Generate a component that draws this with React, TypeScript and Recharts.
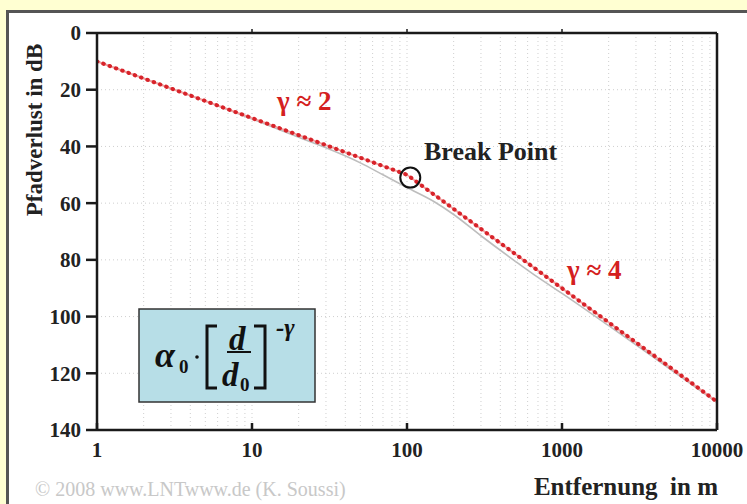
import { LineChart, Line, XAxis, YAxis, ReferenceLine, ReferenceDot } from 'recharts'

// distance axis (log) and path loss axis (dB, growing downwards)
const distanceTicks = [1, 10, 100, 1000, 10000]
const lossTicks = [0, 20, 40, 60, 80, 100, 120, 140]
const lossGrid = [20, 40, 60, 80, 100, 120]
const distanceGrid = [
  2, 3, 4, 5, 6, 7, 8, 9, 10,
  20, 30, 40, 50, 60, 70, 80, 90, 100,
  200, 300, 400, 500, 600, 700, 800, 900, 1000,
  2000, 3000, 4000, 5000, 6000, 7000, 8000, 9000,
]

// two-slope model: gamma ~ 2 up to the break point, gamma ~ 4 beyond
const modelDistance = [1, 100, 10000]
const modelLoss = [10, 50, 130]

// smooth path loss curve underneath the model
const curveDistance = [1, 2, 5, 10, 20, 30, 50, 70, 100, 150, 200, 300, 500, 700, 1000, 2000, 5000, 10000]
const curveLoss = [10, 16, 24, 30.3, 36.8, 40.5, 45.8, 50, 54.5, 59.5, 64, 71.5, 80.5, 86.2, 91.8, 103.2, 118.6, 130.3]

const breakDistance = 105
const breakLoss = 51

const modelData = modelDistance.map((d, i) => ({ d, loss: modelLoss[i] }))
const curveData = curveDistance.map((d, i) => ({ d, loss: curveLoss[i] }))

const SERIF = '"Liberation Serif", "Times New Roman", serif'
const AXIS = { stroke: '#1a1a1a', strokeWidth: 2.5 }
const GRID = '#cfcfcf'
const TICK = { fill: '#222', fontSize: 21, fontWeight: 'bold', fontFamily: SERIF }
const ITALIC = { fontStyle: 'italic' as const }

export default function App() {
  return (
    <div
      style={{
        position: 'fixed',
        left: 0,
        top: 0,
        width: 747,
        height: 504,
        background: '#ffffd2',
        overflow: 'hidden',
        fontFamily: SERIF,
      }}
    >
      <div
        style={{
          position: 'absolute',
          left: 6,
          top: 10,
          width: 800,
          height: 600,
          background: '#fff',
          borderTop: '3px solid #555',
          borderLeft: '3px solid #555',
        }}
      />
      <div style={{ position: 'absolute', left: 0, top: 0 }}>
        <LineChart
          width={747}
          height={504}
          margin={{ top: 29, right: 20, bottom: 34, left: 37 }}
        >
          {distanceGrid.map((v) => (
            <ReferenceLine key={'x' + v} x={v} stroke={GRID} strokeDasharray="1 3" />
          ))}
          {lossGrid.map((v) => (
            <ReferenceLine key={'y' + v} y={v} stroke={GRID} strokeDasharray="1 3" />
          ))}
          <XAxis
            dataKey="d"
            type="number"
            scale="log"
            domain={[1, 10000]}
            ticks={distanceTicks}
            allowDataOverflow
            height={40}
            axisLine={AXIS}
            tickLine={AXIS}
            tickSize={-7}
            tickMargin={19}
            tick={TICK}
          />
          <XAxis
            xAxisId="top"
            orientation="top"
            dataKey="d"
            type="number"
            scale="log"
            domain={[1, 10000]}
            ticks={[10, 100, 1000]}
            allowDataOverflow
            height={4}
            axisLine={AXIS}
            tickLine={{ stroke: '#1a1a1a', strokeWidth: 1.5 }}
            tickSize={4}
            tickFormatter={() => ''}
          />
          <YAxis
            type="number"
            domain={[0, 140]}
            ticks={lossTicks}
            reversed
            width={60}
            axisLine={AXIS}
            tickLine={AXIS}
            tickSize={11}
            tickMargin={5}
            tick={TICK}
          />
          <YAxis
            yAxisId="right"
            orientation="right"
            type="number"
            domain={[0, 140]}
            ticks={[20, 40, 60, 80, 100, 120]}
            reversed
            width={10}
            axisLine={AXIS}
            tickLine={{ stroke: '#1a1a1a', strokeWidth: 2 }}
            tickSize={4}
            tickFormatter={() => ''}
          />
          <Line
            data={curveData}
            dataKey="loss"
            type="monotone"
            stroke="#bdbdbd"
            strokeWidth={1.6}
            dot={false}
            isAnimationActive={false}
          />
          <Line
            data={modelData}
            dataKey="loss"
            type="linear"
            stroke="#f4a3a3"
            strokeWidth={2}
            dot={false}
            isAnimationActive={false}
          />
          <Line
            data={modelData}
            dataKey="loss"
            type="linear"
            stroke="#d8232a"
            strokeWidth={4}
            strokeDasharray="0.5 6.2"
            strokeLinecap="round"
            dot={false}
            isAnimationActive={false}
          />
          <ReferenceDot
            x={breakDistance}
            y={breakLoss}
            r={10}
            fill="none"
            stroke="#111"
            strokeWidth={2}
          />
        </LineChart>
      </div>
      <svg
        width={747}
        height={504}
        style={{ position: 'absolute', left: 0, top: 0, pointerEvents: 'none' }}
        fontFamily={SERIF}
      >
        <text
          x={0}
          y={0}
          transform="translate(42,130) rotate(-90)"
          textAnchor="middle"
          fontSize={23}
          fontWeight="bold"
          fill="#222"
        >
          Pfadverlust in dB
        </text>
        <text
          x={718}
          y={495}
          textAnchor="end"
          fontSize={25}
          fontWeight="bold"
          fill="#222"
          style={{ whiteSpace: 'pre' }}
        >
          {'Entfernung  in m'}
        </text>
        <text x={35} y={496} fontSize={20} fill="#c8c8c8">
          © 2008 www.LNTwww.de (K. Soussi)
        </text>

        <text x={277} y={110} fontSize={27} fontWeight="bold" fill="#d42020">
          γ ≈ 2
        </text>
        <text x={567} y={279} fontSize={27} fontWeight="bold" fill="#d42020">
          γ ≈ 4
        </text>
        <text x={424} y={160} fontSize={26} fontWeight="bold" fill="#222">
          Break Point
        </text>

        {/* formula box */}
        <rect x={139} y={309} width={176} height={93} fill="#b7dee7" stroke="#333" strokeWidth={1.5} />
        <g fill="#111" fontWeight="bold">
          <text x={155} y={367} fontSize={36} style={ITALIC}>α</text>
          <text x={179} y={373} fontSize={19}>0</text>
          <circle cx={197} cy={357} r={1.8} />
          <text x={229} y={350} fontSize={33} style={ITALIC}>d</text>
          <text x={222} y={386} fontSize={33} style={ITALIC}>d</text>
          <text x={240} y={391} fontSize={19}>0</text>
          <text x={276} y={336} fontSize={25} style={ITALIC}>-γ</text>
        </g>
        <line x1={227} y1={352} x2={251} y2={352} stroke="#111" strokeWidth={2} />
        <path d="M217 326 L207 326 L207 388 L217 388" fill="none" stroke="#111" strokeWidth={3} />
        <path d="M254 326 L265 326 L265 388 L254 388" fill="none" stroke="#111" strokeWidth={3} />
      </svg>
    </div>
  )
}
